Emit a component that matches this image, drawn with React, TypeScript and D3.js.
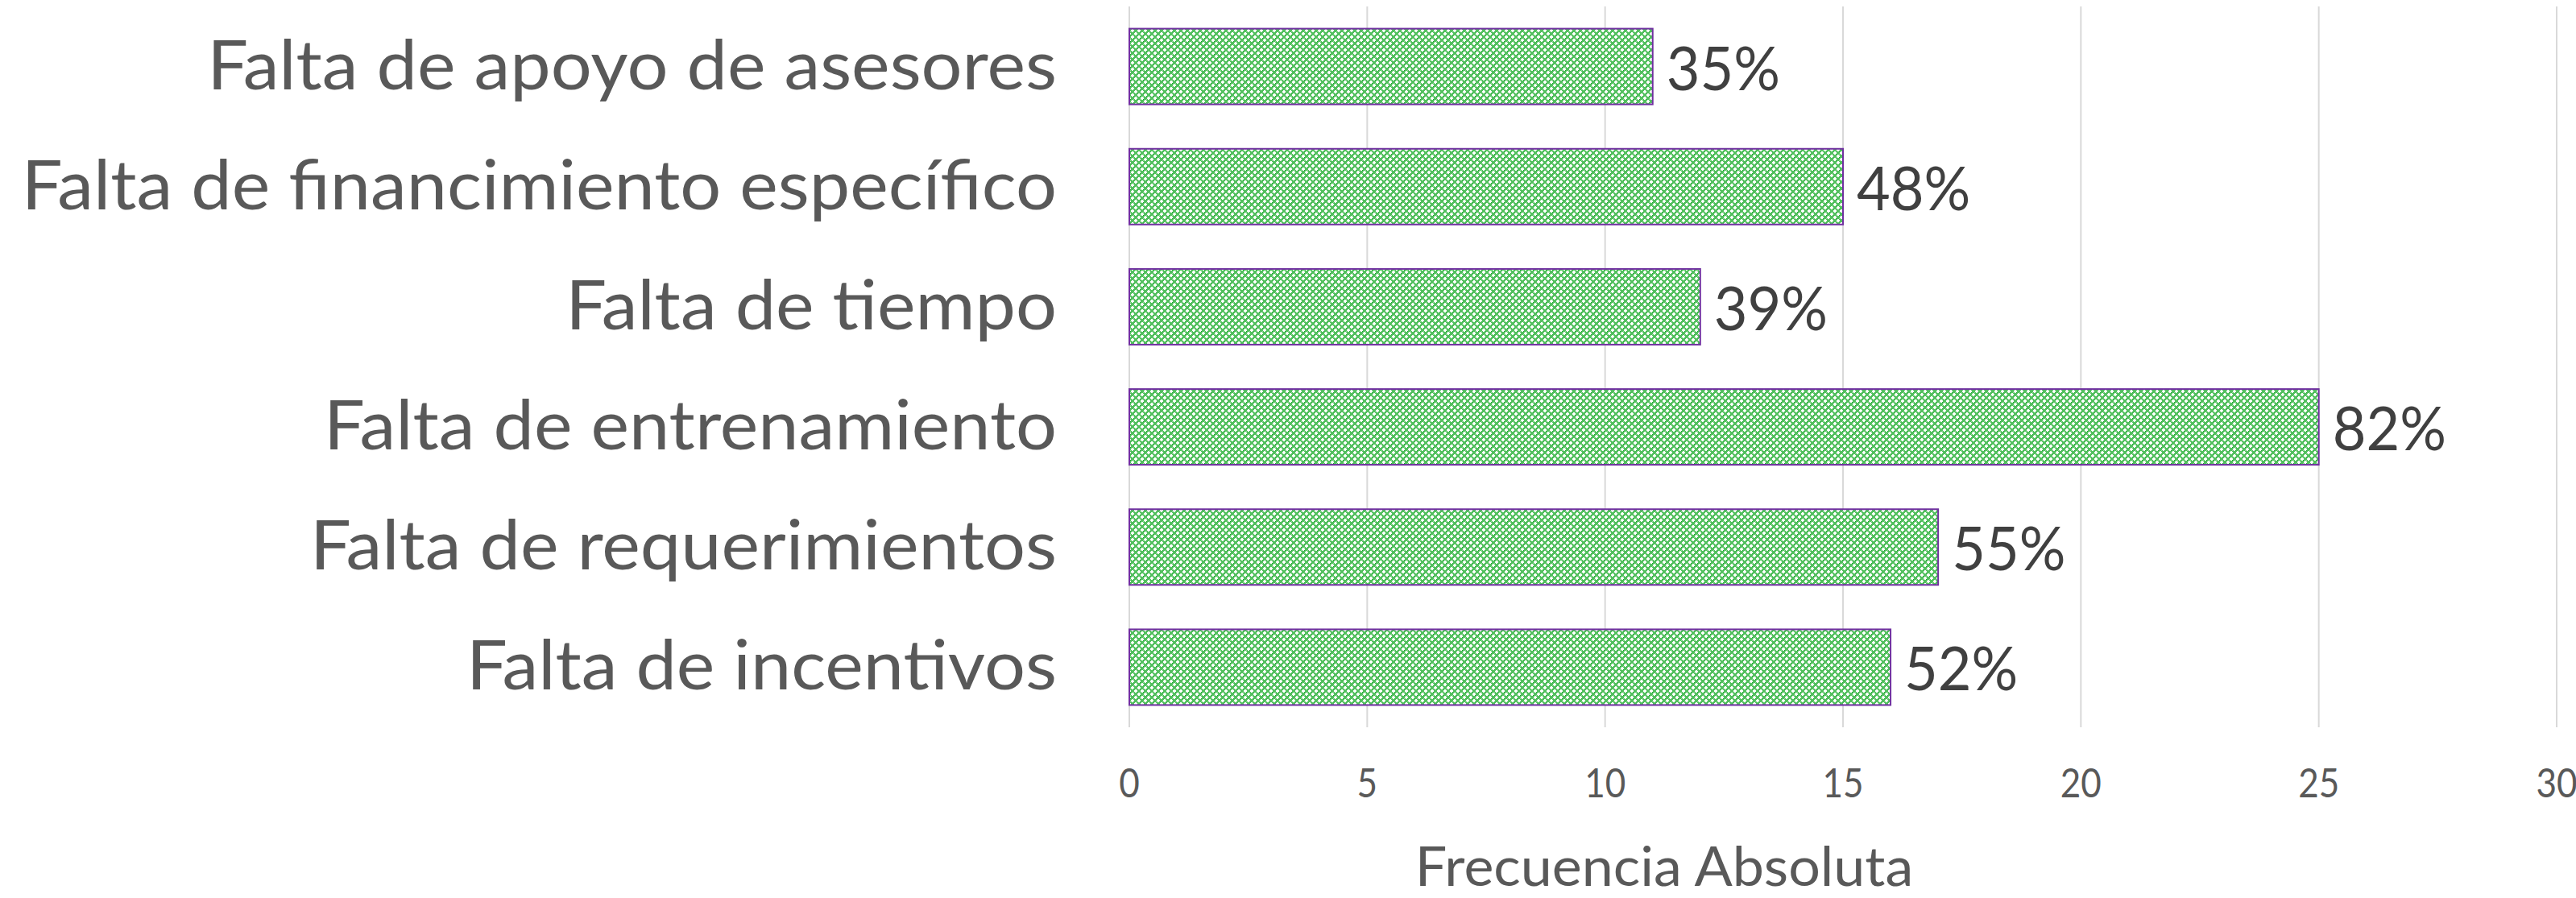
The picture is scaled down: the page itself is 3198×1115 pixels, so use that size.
import React from "react";
import * as d3 from "d3";

const categories = [
  "Falta de apoyo de asesores",
  "Falta de financimiento específico",
  "Falta de tiempo",
  "Falta de entrenamiento",
  "Falta de requerimientos",
  "Falta de incentivos",
];
const values = [11, 15, 12, 25, 17, 16];
const percentLabels = ["35%", "48%", "39%", "82%", "55%", "52%"];
const xTicks = [0, 5, 10, 15, 20, 25, 30];
const xTitle = "Frecuencia Absoluta";

const W = 3198;
const H = 1115;
const FONT = "Lato, 'Open Sans', sans-serif";

export default function App() {
  const x = d3.scaleLinear().domain([0, 30]).range([1402, 3174]);
  const y = d3
    .scaleBand<string>()
    .domain(categories)
    .range([8, 903])
    .paddingInner(0.37)
    .paddingOuter(0.185);
  const bw = y.bandwidth();

  return (
    <svg
      width={W}
      height={H}
      style={{ position: "absolute", left: 0, top: 0, background: "#fff" }}
      fontFamily={FONT}
    >
      <defs>
        <pattern id="dd" width={8} height={8} patternUnits="userSpaceOnUse">
          <rect width={8} height={8} fill="#52C05E" />
          <rect x={1} y={0} width={2} height={4} fill="#ffffff" />
          <rect x={0} y={1} width={4} height={2} fill="#ffffff" />
          <rect x={5} y={4} width={2} height={4} fill="#ffffff" />
          <rect x={4} y={5} width={4} height={2} fill="#ffffff" />
          <rect x={3} y={3} width={1} height={1} fill="#1FA033" />
          <rect x={7} y={7} width={1} height={1} fill="#1FA033" />
          <rect x={3} y={7} width={1} height={1} fill="#9BDC9F" />
          <rect x={7} y={3} width={1} height={1} fill="#9BDC9F" />
        </pattern>
      </defs>

      {/* gridlines */}
      {xTicks.map((t) => (
        <line
          key={"g" + t}
          x1={x(t)}
          x2={x(t)}
          y1={8}
          y2={903}
          stroke="#D9D9D9"
          strokeWidth={2}
        />
      ))}

      {/* bars */}
      {categories.map((c, i) => (
        <rect
          key={c}
          x={x(0)}
          y={y(c)!}
          width={x(values[i]) - x(0)}
          height={bw}
          fill="url(#dd)"
          stroke="#7030A0"
          strokeWidth={2}
        />
      ))}

      {/* category labels */}
      {categories.map((c) => (
        <g key={"l" + c} transform={`translate(1312,${y(c)! + bw / 2 + 28}) scale(1,0.94)`}>
          <text textAnchor="end" fontSize={90} fill="#595959">
            {c}
          </text>
        </g>
      ))}

      {/* value labels */}
      {categories.map((c, i) => (
        <g
          key={"v" + c}
          transform={`translate(${x(values[i]) + 17},${y(c)! + bw / 2 + 29}) scale(1,1.05)`}
        >
          <text fontSize={72} fill="#404040">
            {percentLabels[i]}
          </text>
        </g>
      ))}

      {/* tick labels */}
      {xTicks.map((t) => (
        <g key={"t" + t} transform={`translate(${x(t)},990) scale(1,1.16)`}>
          <text textAnchor="middle" fontSize={44} fill="#595959">
            {t}
          </text>
        </g>
      ))}

      {/* axis title */}
      <g transform={`translate(2066,1100) scale(1,0.96)`}>
        <text textAnchor="middle" fontSize={70} fill="#595959">
          {xTitle}
        </text>
      </g>
    </svg>
  );
}
